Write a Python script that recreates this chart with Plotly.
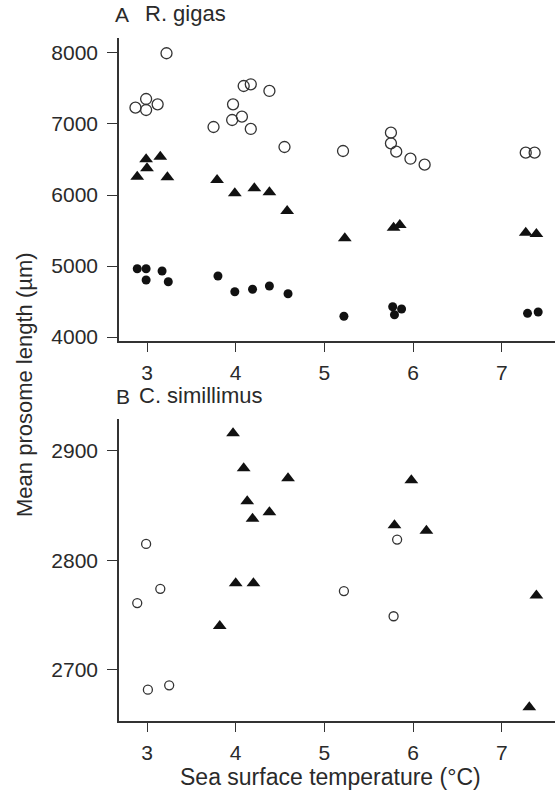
import plotly.graph_objects as go

# ---------- Panel A: R. gigas ----------
a_open_x = [2.87, 2.99, 2.99, 3.12, 3.22, 3.75, 3.97, 3.96, 4.07, 4.09, 4.17, 4.17, 4.38, 4.55,
            5.21, 5.75, 5.75, 5.81, 5.97, 6.13, 7.27, 7.37]
a_open_y = [7230, 7352, 7197, 7277, 7996, 6958, 7277, 7056, 7103, 7535, 7559, 6930, 7465, 6676,
            6620, 6878, 6728, 6610, 6511, 6427, 6596, 6596]

a_tri_x = [2.99, 3.00, 2.89, 3.15, 3.23, 3.79, 3.99, 4.21, 4.38, 4.58, 5.23, 5.78, 5.85, 7.27, 7.39]
a_tri_y = [6503, 6376, 6258, 6539, 6249, 6211, 6024, 6094, 6038, 5775, 5390, 5540, 5577, 5469, 5451]

a_fill_x = [2.89, 2.99, 2.99, 3.17, 3.24, 3.80, 3.99, 4.19, 4.38, 4.59, 5.22, 5.77, 5.87, 5.79, 7.29, 7.41]
a_fill_y = [4962, 4962, 4803, 4930, 4779, 4859, 4638, 4672, 4718, 4610, 4292, 4427, 4394, 4314, 4334, 4352]

# ---------- Panel B: C. simillimus ----------
b_tri_x = [3.97, 4.09, 4.59, 4.13, 4.38, 4.19, 5.98, 5.79, 6.15, 4.00, 4.20, 3.82, 7.39, 7.31]
b_tri_y = [2916, 2884, 2875, 2854, 2844, 2838, 2873, 2832, 2827, 2779, 2779, 2740, 2768, 2666]

b_open_x = [2.99, 2.89, 3.15, 3.01, 3.25, 5.22, 5.78, 5.82]
b_open_y = [2815, 2761, 2774, 2682, 2686, 2772, 2749, 2819]

x_ticks = [3, 4, 5, 6, 7]
a_y_ticks = [4000, 5000, 6000, 7000, 8000]
b_y_ticks = [2700, 2800, 2900]

W, H = 555, 792
FONT = "Liberation Sans, Arial, Helvetica, sans-serif"
INK = "#2a2a2a"
AX = "#333333"

def px_x(p):
    return p / W

def px_y(p):
    return 1 - p / H

fig = go.Figure()

open_style = dict(symbol="circle-open", color="#333333", line=dict(width=1.3, color="#333333"))
tri_style = dict(symbol="triangle-up", color="#111111", line=dict(width=0))
fill_style = dict(symbol="circle", color="#111111", line=dict(width=0))

fig.add_trace(go.Scatter(x=a_open_x, y=a_open_y, mode="markers",
                         marker=dict(size=11, **open_style), xaxis="x", yaxis="y"))
fig.add_trace(go.Scatter(x=a_tri_x, y=a_tri_y, mode="markers",
                         marker=dict(size=12, **tri_style), xaxis="x", yaxis="y"))
fig.add_trace(go.Scatter(x=a_fill_x, y=a_fill_y, mode="markers",
                         marker=dict(size=9, **fill_style), xaxis="x", yaxis="y"))

fig.add_trace(go.Scatter(x=b_tri_x, y=b_tri_y, mode="markers",
                         marker=dict(size=12, **tri_style), xaxis="x2", yaxis="y2"))
fig.add_trace(go.Scatter(x=b_open_x, y=b_open_y, mode="markers",
                         marker=dict(size=9, **open_style), xaxis="x2", yaxis="y2"))

x_range = [3 - 28 / 88.7, 3 + 408 / 88.7]

common_x = dict(range=x_range, tickvals=x_ticks, showline=True, linecolor=AX, linewidth=1.6,
                ticks="outside", ticklen=9, tickwidth=1.4, tickcolor=AX, showgrid=False,
                zeroline=False, tickfont=dict(family=FONT, size=21, color=INK),
                ticklabelstandoff=3,
                domain=[px_x(119), 1.0], automargin=False)
common_y = dict(showline=True, linecolor=AX, linewidth=1.6, ticks="outside", ticklen=10,
                tickwidth=1.4, tickcolor=AX, showgrid=False, zeroline=False,
                tickfont=dict(family=FONT, size=21, color=INK), ticklabelstandoff=5,
                automargin=False)

fig.update_layout(
    width=W, height=H,
    margin=dict(l=0, r=0, t=0, b=0),
    paper_bgcolor="white", plot_bgcolor="white",
    showlegend=False,
    xaxis=dict(**common_x, anchor="y"),
    yaxis=dict(**common_y, range=[3944, 8211], tickvals=a_y_ticks, anchor="x",
               domain=[px_y(341), px_y(38)]),
    xaxis2=dict(**common_x, anchor="y2"),
    yaxis2=dict(**common_y, range=[2653.4, 2929], tickvals=b_y_ticks, anchor="x2",
                domain=[px_y(721), px_y(419)]),
    annotations=[
        dict(text="A", xref="paper", yref="paper", x=px_x(113), y=px_y(28),
             xanchor="left", yanchor="bottom", showarrow=False,
             font=dict(family=FONT, size=21, color=INK)),
        dict(text="R. gigas", xref="paper", yref="paper", x=px_x(143), y=px_y(28),
             xanchor="left", yanchor="bottom", showarrow=False,
             font=dict(family=FONT, size=22, color=INK)),
        dict(text="B", xref="paper", yref="paper", x=px_x(114), y=px_y(410),
             xanchor="left", yanchor="bottom", showarrow=False,
             font=dict(family=FONT, size=21, color=INK)),
        dict(text="C. simillimus", xref="paper", yref="paper", x=px_x(137), y=px_y(410),
             xanchor="left", yanchor="bottom", showarrow=False,
             font=dict(family=FONT, size=22, color=INK)),
        dict(text="Mean prosome length (µm)", xref="paper", yref="paper", x=px_x(24), y=px_y(385),
             xanchor="center", yanchor="middle", textangle=-90, showarrow=False,
             font=dict(family=FONT, size=22, color=INK)),
        dict(text="Sea surface temperature (°C)", xref="paper", yref="paper", x=px_x(330), y=px_y(777),
             xanchor="center", yanchor="middle", showarrow=False,
             font=dict(family=FONT, size=23, color=INK)),
    ],
)

fig.write_html("out.html")
